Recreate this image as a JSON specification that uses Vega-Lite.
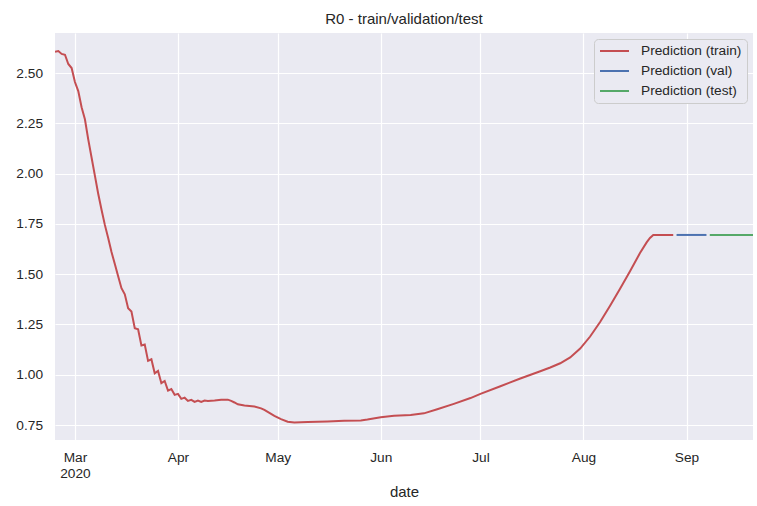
{
  "$schema": "https://vega.github.io/schema/vega-lite/v6.json",
  "autosize": "none",
  "padding": {"left": 55, "top": 33, "right": 4, "bottom": 66},
  "width": 698,
  "height": 407,
  "background": "white",
  "title": {"text": "R0 - train/validation/test", "fontSize": 15, "fontWeight": "normal", "color": "#262626", "font": "Liberation Sans", "offset": 6},
  "config": {
    "font": "Liberation Sans",
    "view": {"fill": "#EAEAF2", "stroke": null},
    "axis": {"domain": false, "ticks": false, "gridColor": "white", "gridWidth": 1.2, "labelColor": "#262626", "labelFontSize": 13.7, "titleColor": "#262626", "titleFontSize": 15, "titleFontWeight": "normal"}
  },
  "data": {"values": [
    {"date": "2020-02-24", "value": 2.606, "series": "Prediction (train)"},
    {"date": "2020-02-25", "value": 2.609, "series": "Prediction (train)"},
    {"date": "2020-02-26", "value": 2.595, "series": "Prediction (train)"},
    {"date": "2020-02-27", "value": 2.591, "series": "Prediction (train)"},
    {"date": "2020-02-28", "value": 2.545, "series": "Prediction (train)"},
    {"date": "2020-02-29", "value": 2.525, "series": "Prediction (train)"},
    {"date": "2020-03-01", "value": 2.455, "series": "Prediction (train)"},
    {"date": "2020-03-02", "value": 2.41, "series": "Prediction (train)"},
    {"date": "2020-03-03", "value": 2.33, "series": "Prediction (train)"},
    {"date": "2020-03-04", "value": 2.27, "series": "Prediction (train)"},
    {"date": "2020-03-05", "value": 2.17, "series": "Prediction (train)"},
    {"date": "2020-03-06", "value": 2.08, "series": "Prediction (train)"},
    {"date": "2020-03-07", "value": 1.99, "series": "Prediction (train)"},
    {"date": "2020-03-08", "value": 1.9, "series": "Prediction (train)"},
    {"date": "2020-03-09", "value": 1.82, "series": "Prediction (train)"},
    {"date": "2020-03-10", "value": 1.745, "series": "Prediction (train)"},
    {"date": "2020-03-11", "value": 1.68, "series": "Prediction (train)"},
    {"date": "2020-03-12", "value": 1.61, "series": "Prediction (train)"},
    {"date": "2020-03-13", "value": 1.55, "series": "Prediction (train)"},
    {"date": "2020-03-14", "value": 1.49, "series": "Prediction (train)"},
    {"date": "2020-03-15", "value": 1.43, "series": "Prediction (train)"},
    {"date": "2020-03-16", "value": 1.4, "series": "Prediction (train)"},
    {"date": "2020-03-17", "value": 1.331, "series": "Prediction (train)"},
    {"date": "2020-03-18", "value": 1.314, "series": "Prediction (train)"},
    {"date": "2020-03-19", "value": 1.231, "series": "Prediction (train)"},
    {"date": "2020-03-20", "value": 1.226, "series": "Prediction (train)"},
    {"date": "2020-03-21", "value": 1.145, "series": "Prediction (train)"},
    {"date": "2020-03-22", "value": 1.15, "series": "Prediction (train)"},
    {"date": "2020-03-23", "value": 1.069, "series": "Prediction (train)"},
    {"date": "2020-03-24", "value": 1.077, "series": "Prediction (train)"},
    {"date": "2020-03-25", "value": 1.007, "series": "Prediction (train)"},
    {"date": "2020-03-26", "value": 1.019, "series": "Prediction (train)"},
    {"date": "2020-03-27", "value": 0.958, "series": "Prediction (train)"},
    {"date": "2020-03-28", "value": 0.969, "series": "Prediction (train)"},
    {"date": "2020-03-29", "value": 0.921, "series": "Prediction (train)"},
    {"date": "2020-03-30", "value": 0.929, "series": "Prediction (train)"},
    {"date": "2020-03-31", "value": 0.9, "series": "Prediction (train)"},
    {"date": "2020-04-01", "value": 0.905, "series": "Prediction (train)"},
    {"date": "2020-04-02", "value": 0.88, "series": "Prediction (train)"},
    {"date": "2020-04-03", "value": 0.886, "series": "Prediction (train)"},
    {"date": "2020-04-04", "value": 0.87, "series": "Prediction (train)"},
    {"date": "2020-04-05", "value": 0.875, "series": "Prediction (train)"},
    {"date": "2020-04-06", "value": 0.865, "series": "Prediction (train)"},
    {"date": "2020-04-07", "value": 0.872, "series": "Prediction (train)"},
    {"date": "2020-04-08", "value": 0.865, "series": "Prediction (train)"},
    {"date": "2020-04-09", "value": 0.872, "series": "Prediction (train)"},
    {"date": "2020-04-10", "value": 0.87, "series": "Prediction (train)"},
    {"date": "2020-04-12", "value": 0.872, "series": "Prediction (train)"},
    {"date": "2020-04-14", "value": 0.875, "series": "Prediction (train)"},
    {"date": "2020-04-16", "value": 0.876, "series": "Prediction (train)"},
    {"date": "2020-04-17", "value": 0.87, "series": "Prediction (train)"},
    {"date": "2020-04-18", "value": 0.862, "series": "Prediction (train)"},
    {"date": "2020-04-19", "value": 0.853, "series": "Prediction (train)"},
    {"date": "2020-04-21", "value": 0.847, "series": "Prediction (train)"},
    {"date": "2020-04-24", "value": 0.842, "series": "Prediction (train)"},
    {"date": "2020-04-26", "value": 0.833, "series": "Prediction (train)"},
    {"date": "2020-04-27", "value": 0.825, "series": "Prediction (train)"},
    {"date": "2020-04-28", "value": 0.815, "series": "Prediction (train)"},
    {"date": "2020-04-30", "value": 0.795, "series": "Prediction (train)"},
    {"date": "2020-05-02", "value": 0.779, "series": "Prediction (train)"},
    {"date": "2020-05-04", "value": 0.766, "series": "Prediction (train)"},
    {"date": "2020-05-06", "value": 0.762, "series": "Prediction (train)"},
    {"date": "2020-05-10", "value": 0.765, "series": "Prediction (train)"},
    {"date": "2020-05-16", "value": 0.768, "series": "Prediction (train)"},
    {"date": "2020-05-21", "value": 0.771, "series": "Prediction (train)"},
    {"date": "2020-05-26", "value": 0.773, "series": "Prediction (train)"},
    {"date": "2020-05-28", "value": 0.777, "series": "Prediction (train)"},
    {"date": "2020-06-01", "value": 0.789, "series": "Prediction (train)"},
    {"date": "2020-06-05", "value": 0.796, "series": "Prediction (train)"},
    {"date": "2020-06-10", "value": 0.8, "series": "Prediction (train)"},
    {"date": "2020-06-14", "value": 0.808, "series": "Prediction (train)"},
    {"date": "2020-06-18", "value": 0.828, "series": "Prediction (train)"},
    {"date": "2020-06-23", "value": 0.855, "series": "Prediction (train)"},
    {"date": "2020-06-28", "value": 0.884, "series": "Prediction (train)"},
    {"date": "2020-07-01", "value": 0.905, "series": "Prediction (train)"},
    {"date": "2020-07-07", "value": 0.943, "series": "Prediction (train)"},
    {"date": "2020-07-13", "value": 0.981, "series": "Prediction (train)"},
    {"date": "2020-07-19", "value": 1.017, "series": "Prediction (train)"},
    {"date": "2020-07-22", "value": 1.036, "series": "Prediction (train)"},
    {"date": "2020-07-25", "value": 1.057, "series": "Prediction (train)"},
    {"date": "2020-07-28", "value": 1.086, "series": "Prediction (train)"},
    {"date": "2020-07-31", "value": 1.13, "series": "Prediction (train)"},
    {"date": "2020-08-03", "value": 1.19, "series": "Prediction (train)"},
    {"date": "2020-08-06", "value": 1.262, "series": "Prediction (train)"},
    {"date": "2020-08-09", "value": 1.343, "series": "Prediction (train)"},
    {"date": "2020-08-12", "value": 1.428, "series": "Prediction (train)"},
    {"date": "2020-08-15", "value": 1.515, "series": "Prediction (train)"},
    {"date": "2020-08-18", "value": 1.605, "series": "Prediction (train)"},
    {"date": "2020-08-20", "value": 1.658, "series": "Prediction (train)"},
    {"date": "2020-08-21", "value": 1.68, "series": "Prediction (train)"},
    {"date": "2020-08-22", "value": 1.695, "series": "Prediction (train)"},
    {"date": "2020-08-25", "value": 1.695, "series": "Prediction (train)"},
    {"date": "2020-08-28", "value": 1.695, "series": "Prediction (train)"},
    {"date": "2020-08-29", "value": 1.695, "series": "Prediction (val)"},
    {"date": "2020-09-02", "value": 1.695, "series": "Prediction (val)"},
    {"date": "2020-09-07", "value": 1.695, "series": "Prediction (val)"},
    {"date": "2020-09-08", "value": 1.695, "series": "Prediction (test)"},
    {"date": "2020-09-14", "value": 1.695, "series": "Prediction (test)"},
    {"date": "2020-09-21", "value": 1.695, "series": "Prediction (test)"}
  ]},
  "mark": {"type": "line", "strokeWidth": 2, "clip": true},
  "encoding": {
    "x": {
      "field": "date", "type": "temporal", "title": "date",
      "scale": {"type": "utc", "domain": [{"year": 2020, "month": 2, "date": 24, "utc": true}, {"year": 2020, "month": 9, "date": 21, "utc": true}], "nice": false},
      "axis": {
        "values": [
          {"year": 2020, "month": 3, "date": 1, "utc": true},
          {"year": 2020, "month": 4, "date": 1, "utc": true},
          {"year": 2020, "month": 5, "date": 1, "utc": true},
          {"year": 2020, "month": 6, "date": 1, "utc": true},
          {"year": 2020, "month": 7, "date": 1, "utc": true},
          {"year": 2020, "month": 8, "date": 1, "utc": true},
          {"year": 2020, "month": 9, "date": 1, "utc": true}
        ],
        "labelExpr": "utcmonth(datum.value) == 2 ? ['Mar', '2020'] : utcFormat(datum.value, '%b')",
        "labelPadding": 10,
        "labelLineHeight": 16,
        "titlePadding": 5
      }
    },
    "y": {
      "field": "value", "type": "quantitative", "title": null,
      "scale": {"domain": [0.6755, 2.699], "nice": false, "zero": false},
      "axis": {"values": [0.75, 1.0, 1.25, 1.5, 1.75, 2.0, 2.25, 2.5], "format": ".2f", "labelPadding": 12.5}
    },
    "color": {
      "field": "series", "type": "nominal", "title": null,
      "sort": ["Prediction (train)", "Prediction (val)", "Prediction (test)"],
      "scale": {"domain": ["Prediction (train)", "Prediction (val)", "Prediction (test)"], "range": ["#C44E52", "#4C72B0", "#55A868"]},
      "legend": {
        "orient": "top-right", "offset": 6, "padding": 5,
        "symbolType": "stroke", "symbolSize": 841, "symbolStrokeWidth": 2,
        "labelFontSize": 13.7, "labelColor": "#262626", "labelOffset": 11,
        "clipHeight": 14, "rowPadding": 6,
        "fillColor": "#EAEAF2", "strokeColor": "#CCCCCC", "cornerRadius": 4
      }
    }
  }
}
